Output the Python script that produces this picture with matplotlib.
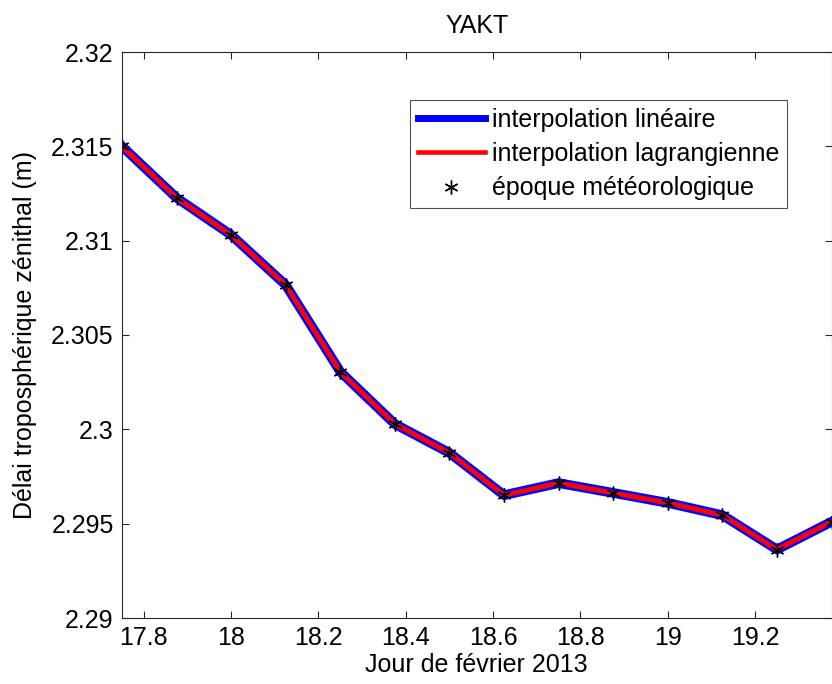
import matplotlib
matplotlib.use('Agg')
import matplotlib.pyplot as plt

plt.rcParams['font.family'] = ['Liberation Sans', 'DejaVu Sans']

# epochs (day of Feb 2013) and zenith tropospheric delay (m)
jours = [17.75, 17.875, 18.0, 18.125, 18.25, 18.375, 18.5, 18.625,
         18.75, 18.875, 19.0, 19.125, 19.25, 19.375]
delai = [2.3150, 2.31227, 2.3103, 2.30765, 2.30305, 2.30028, 2.29875,
         2.29651, 2.29715, 2.29663, 2.2961, 2.29545, 2.29363, 2.2951]

xticks = [17.8, 18, 18.2, 18.4, 18.6, 18.8, 19, 19.2]
yticks = [2.29, 2.295, 2.30, 2.305, 2.31, 2.315, 2.32]
yticklabels = ['2.29', '2.295', '2.3', '2.305', '2.31', '2.315', '2.32']

fig = plt.figure(figsize=(8.32, 6.84), dpi=100)
ax = fig.add_axes([122/832, 1 - 618/684, 709.5/832, (618 - 52)/684])

ax.plot(jours, delai, color='#0000ff', lw=7, label='interpolation linéaire')
ax.plot(jours, delai, color='#ff0000', lw=3.5, label='interpolation lagrangienne')
ax.plot(jours, delai, ls='none', marker=(6, 2, 0), ms=10, mew=1.0, color='black',
        label='époque météorologique')

ax.set_xlim(17.75, 19.375)
ax.set_ylim(2.29, 2.32)
ax.set_xticks(xticks)
ax.set_xticklabels([f'{t:g}' for t in xticks])
ax.set_yticks(yticks)
ax.set_yticklabels(yticklabels)
ax.tick_params(direction='in', length=5, width=0.8, top=True, right=True,
               labelsize=18, colors='#262626', labelcolor='black', pad=6)
for s in ax.spines.values():
    s.set_linewidth(0.8)
    s.set_color('#262626')

ax.set_title('YAKT', fontsize=18, pad=14)
ax.set_xlabel('Jour de février 2013', fontsize=18, labelpad=2)
ax.set_ylabel('Délai troposphérique zénithal (m)', fontsize=18, labelpad=10)

leg = fig.legend(loc='upper left', bbox_to_anchor=(410/832, 1 - 100/684),
                 fontsize=18, frameon=True, fancybox=False, edgecolor='#262626',
                 handlelength=2.7, handletextpad=0.3, labelspacing=0.42,
                 borderpad=0.3, borderaxespad=0)
leg.get_frame().set_linewidth(0.8)
leg.get_lines()[0].set_linewidth(5)
leg.get_lines()[1].set_linewidth(3.3)

fig.savefig('out.png', dpi=100)
